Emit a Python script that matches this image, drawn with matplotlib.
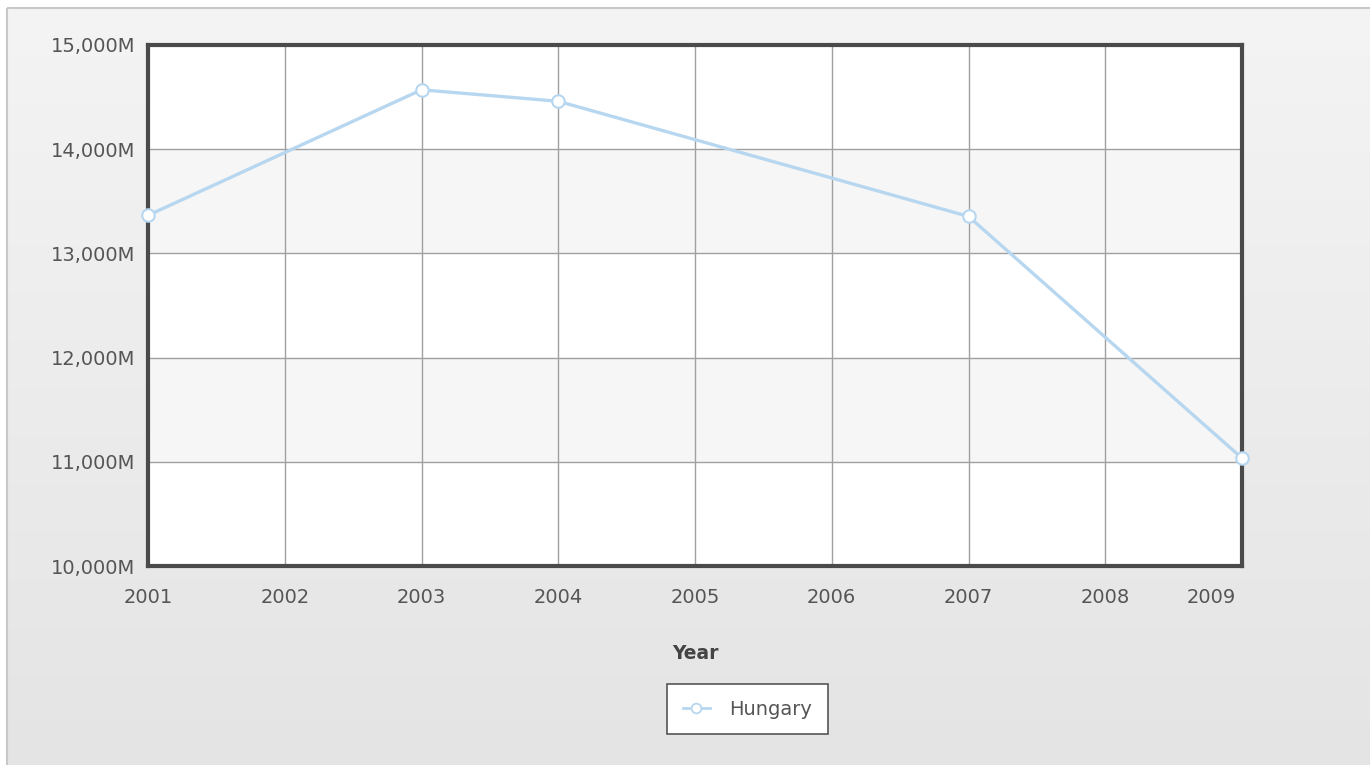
import numpy as np
import matplotlib
matplotlib.use("Agg")
import matplotlib.pyplot as plt
import matplotlib.transforms as mtransforms
from matplotlib.patches import Rectangle
from matplotlib.lines import Line2D
from matplotlib.ticker import FuncFormatter

# Yearly values (millions)
years = [2001, 2003, 2004, 2007, 2009]
hungary = [13365, 14570, 14460, 13355, 11035]
tick_years = [2001, 2002, 2003, 2004, 2005, 2006, 2007, 2008, 2009]
y_ticks = [10000, 11000, 12000, 13000, 14000, 15000]

LINE_COLOR = "#b7d7f0"
TEXT_COLOR = "#555555"

W, H = 1370, 765
fig = plt.figure(figsize=(W / 100, H / 100), dpi=100)
fig.patch.set_facecolor("white")

# Panel background with a soft vertical gradient and a thin border
bg = fig.add_axes([0, 0, 1, 1], zorder=-10)
bg.set_xlim(0, W)
bg.set_ylim(H, 0)
bg.axis("off")
grad = np.linspace(0, 1, 256).reshape(-1, 1)
panel_cmap = matplotlib.colors.LinearSegmentedColormap.from_list("panel", ["#f4f4f4", "#e4e4e4"])
bg.imshow(grad, extent=(8, W + 5, H + 5, 8), cmap=panel_cmap, aspect="auto", zorder=0)
bg.add_patch(Rectangle((7.5, 7.5), W, H, fill=False, edgecolor="#c8c8c8", linewidth=1.5, zorder=1))

left, right, top, bottom = 148, 1242, 45, 566
ax = fig.add_axes([left / W, 1 - bottom / H, (right - left) / W, (bottom - top) / H])
ax.set_facecolor("white")
ax.set_xlim(2001, 2009)
ax.set_ylim(10000, 15000)

# Alternating horizontal bands
for i, (lo, hi) in enumerate(zip(y_ticks[:-1], y_ticks[1:])):
    if i % 2 == 1:
        ax.axhspan(lo, hi, color="#f6f6f6", zorder=0, linewidth=0)

ax.set_xticks(tick_years)
ax.set_yticks(y_ticks)
ax.grid(True, color="#a0a0a0", linewidth=1.0, zorder=1)
ax.set_axisbelow(True)

ax.yaxis.set_major_formatter(FuncFormatter(lambda v, p: f"{int(v):,}M"))
ax.tick_params(axis="both", length=0, labelsize=14, labelcolor=TEXT_COLOR)
ax.tick_params(axis="y", pad=9)
ax.tick_params(axis="x", pad=16)

# Keep the last year label inside the plot's right edge
last = ax.get_xticklabels()[-1]
last.set_horizontalalignment("right")
last.set_transform(last.get_transform() +
                   mtransforms.ScaledTranslation(-6 / 100, 0, fig.dpi_scale_trans))

for s in ax.spines.values():
    s.set_color("#4a4a4a")
    s.set_linewidth(3)

ax.plot(years, hungary, color=LINE_COLOR, linewidth=2.4, marker="o", markersize=9,
        markerfacecolor="white", markeredgecolor=LINE_COLOR, markeredgewidth=1.5,
        clip_on=False, zorder=5)

ax.set_xlabel("Year", fontsize=13.5, fontweight="bold", color="#444444")
ax.xaxis.set_label_coords(0.5, -(644 - bottom) / (bottom - top))

handle = Line2D([], [], color=LINE_COLOR, linewidth=2, marker="o", markersize=7,
                markerfacecolor="white", markeredgecolor=LINE_COLOR, markeredgewidth=1.3)
leg = fig.legend([handle], ["Hungary"], loc="upper left",
                 bbox_to_anchor=(667 / W, 1 - 684 / H), frameon=True, fancybox=False,
                 fontsize=14, handlelength=1.4, borderpad=0.8, handletextpad=1.0,
                 borderaxespad=0)
leg.get_frame().set_edgecolor("#555555")
leg.get_frame().set_linewidth(1.2)
leg.get_frame().set_facecolor("white")
leg.get_frame().set_alpha(1)
for t in leg.get_texts():
    t.set_color(TEXT_COLOR)

fig.savefig("out.png", dpi=100)
